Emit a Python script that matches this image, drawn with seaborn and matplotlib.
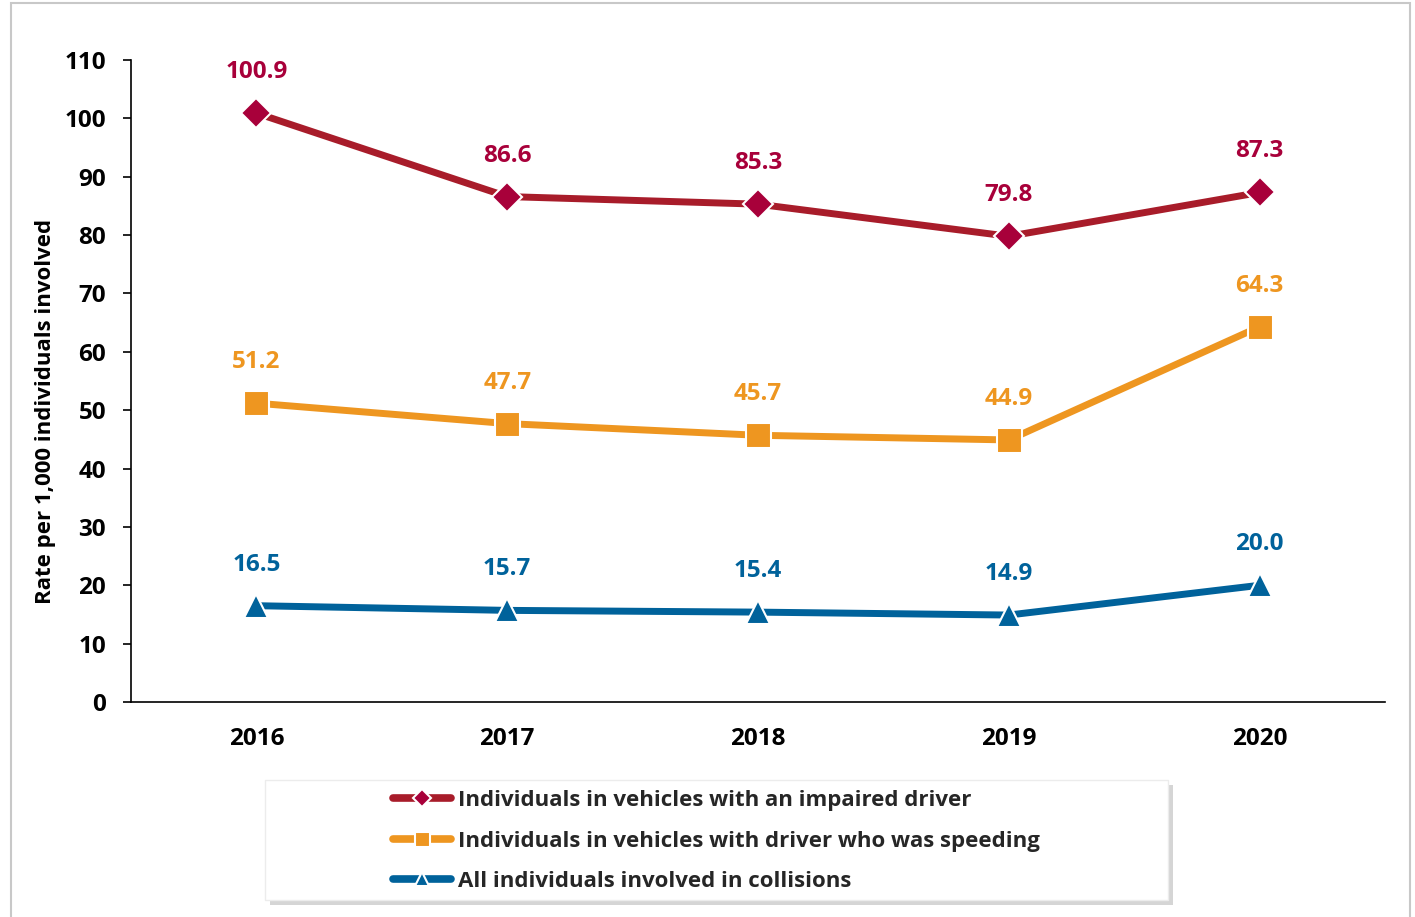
import matplotlib
matplotlib.use("Agg")
import matplotlib.pyplot as plt
import seaborn as sns
import pandas as pd
from matplotlib.patches import Rectangle
from matplotlib.lines import Line2D

years = ["2016", "2017", "2018", "2019", "2020"]
impaired = [100.9, 86.6, 85.3, 79.8, 87.3]
speeding = [51.2, 47.7, 45.7, 44.9, 64.3]
all_coll = [16.5, 15.7, 15.4, 14.9, 20.0]
labels = ["Individuals in vehicles with an impaired driver",
          "Individuals in vehicles with driver who was speeding",
          "All individuals involved in collisions"]
y_ticks = list(range(0, 111, 10))

sns.set_theme(style="white")
FONT = ['Open Sans', 'DejaVu Sans']
plt.rcParams['font.family'] = FONT
plt.rcParams['font.weight'] = 'bold'

fig = plt.figure(figsize=(14.15, 9.17), dpi=100)
ax = fig.add_axes([131/1415, 1-702/917, (1385-131)/1415, (702-60)/917])

series = [
    (impaired, labels[0], "#A81C2A", "#A8003A", "D", 15, "#A8003A"),
    (speeding, labels[1], "#EE9620", "#EE9620", "s", 18, "#EE9620"),
    (all_coll, labels[2], "#00629B", "#00629B", "^", 17, "#00629B"),
]
xs = list(range(len(years)))
handles = []
for vals, lab, lc, mc, mk, ms, tc in series:
    df = pd.DataFrame({"x": xs, "y": vals})
    sns.lineplot(data=df, x="x", y="y", ax=ax, color=lc, linewidth=5,
                 marker=mk, markersize=ms, markerfacecolor=mc,
                 markeredgecolor="white", markeredgewidth=1.5, legend=False)
    for x, v in zip(xs, vals):
        ax.annotate(f"{v:.1f}", (x, v), textcoords="offset pixels", xytext=(0, 41),
                    ha="center", va="center", color=tc, fontsize=17.5, fontweight="bold")
    handles.append(Line2D([0], [0], color=lc, linewidth=5.5, marker=mk,
                          markersize=ms*0.6, markerfacecolor=mc,
                          markeredgecolor="white", markeredgewidth=1.5,
                          solid_capstyle="round"))

ax.set_xlim(-0.5, 4.5)
ax.set_ylim(0, 110)
ax.set_xticks(xs)
ax.set_xticklabels(years)
ax.set_yticks(y_ticks)
ax.set_xlabel("")
ax.set_ylabel("Rate per 1,000 individuals involved", fontsize=16, fontweight="bold",
              labelpad=6, color="black", y=0.452)
for s in ["top", "right"]:
    ax.spines[s].set_visible(False)
for s in ["left", "bottom"]:
    ax.spines[s].set_color("black")
    ax.spines[s].set_linewidth(1.2)
ax.tick_params(axis="y", which="major", left=True, length=6, width=1.2, color="black",
               pad=12, labelsize=17.5, labelcolor="black")
ax.tick_params(axis="x", which="major", bottom=False, length=0, pad=18,
               labelsize=17.5, labelcolor="black")
for t in ax.get_xticklabels() + ax.get_yticklabels():
    t.set_fontweight("bold")

# figure border
fig.patches.append(Rectangle((11/1415, -0.01), (1410-11)/1415, 1.01-3/917,
                             transform=fig.transFigure, fill=False,
                             edgecolor="#c8c8c8", linewidth=1.5, zorder=0))
# legend box with shadow
lx0, lx1 = 265/1415, 1168/1415
ly0, ly1 = 1-900/917, 1-780/917
fig.patches.append(Rectangle((lx0+5/1415, ly0-5/917), lx1-lx0, ly1-ly0,
                             transform=fig.transFigure, facecolor="#c4c4c4",
                             edgecolor="none", alpha=0.7, zorder=1))
fig.patches.append(Rectangle((lx0, ly0), lx1-lx0, ly1-ly0,
                             transform=fig.transFigure, facecolor="white",
                             edgecolor="#ececec", linewidth=1, zorder=2))
leg = fig.legend(handles, labels, loc="center", bbox_to_anchor=((lx0+lx1)/2, (ly0+ly1)/2 - 1/917),
                 frameon=False, handlelength=2.6, handletextpad=0.3,
                 labelspacing=0.88, numpoints=1, prop={"family": FONT, "weight": "bold", "size": 16})
leg.set_zorder(3)

fig.savefig("out.png", dpi=100)
